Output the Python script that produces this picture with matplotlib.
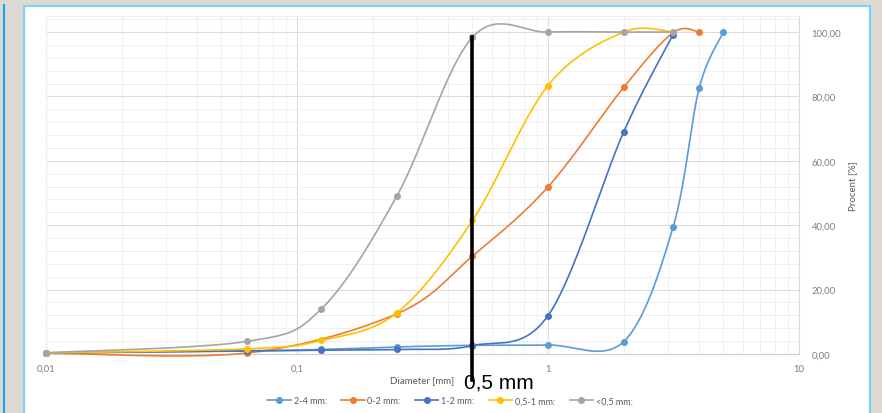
import matplotlib
matplotlib.use('Agg')
import matplotlib.pyplot as plt
from matplotlib.patches import Rectangle
from matplotlib.lines import Line2D
from matplotlib.ticker import FixedLocator, FuncFormatter, MultipleLocator
import numpy as np

plt.rcParams['font.family'] = ['Lato', 'DejaVu Sans']

# sieve sizes [mm] and passing percentages per fraction
sizes_24 = [0.01, 0.063, 0.125, 0.25, 0.5, 1, 2, 3.15, 4, 5]
pct_24 = [0.3, 1.0, 1.4, 2.2, 2.7, 2.8, 3.8, 39.4, 82.5, 100]

sizes_02 = [0.01, 0.063, 0.25, 0.5, 1, 2, 3.15, 4]
pct_02 = [0.3, 0.3, 12.5, 30.4, 51.9, 82.8, 99.8, 100]

sizes_12 = [0.01, 0.063, 0.125, 0.25, 0.5, 1, 2, 3.15]
pct_12 = [0.3, 0.9, 1.2, 1.4, 2.6, 11.9, 68.9, 99.2]

sizes_051 = [0.01, 0.063, 0.125, 0.25, 0.5, 1, 2, 3.15]
pct_051 = [0.3, 1.6, 4.2, 12.8, 41.5, 83.4, 100, 100]

sizes_05 = [0.01, 0.063, 0.125, 0.25, 0.5, 1, 2, 3.15]
pct_05 = [0.4, 3.9, 14.0, 49.1, 98.4, 100, 100, 100]

labels = ['2-4 mm:', '0-2 mm:', '1-2 mm:', '0,5-1 mm:', '<0,5 mm:']
colors = ['#5B9BD5', '#ED7D31', '#4472C4', '#FFC000', '#A5A5A5']

cut_size = 0.5
cut_top = 98.4
cut_bottom = -8

x_ticks = [0.01, 0.1, 1, 10]
y_ticks = [0, 20, 40, 60, 80, 100]


def smooth(xs, ys, n=40):
    # excel-like smoothed line: bezier through the points in log-x space
    pts = np.column_stack([np.log10(xs), np.asarray(ys, float)])
    P = np.vstack([pts[0], pts, pts[-1]])
    t = np.linspace(0, 1, n)[:, None]
    out = []
    for i in range(1, len(P) - 2):
        p0, p1, p2, p3 = P[i - 1], P[i], P[i + 1], P[i + 2]
        c1 = p1 + (p2 - p0) / 6
        c2 = p2 - (p3 - p1) / 6
        seg = (1 - t) ** 3 * p1 + 3 * (1 - t) ** 2 * t * c1 + 3 * (1 - t) * t ** 2 * c2 + t ** 3 * p2
        out.append(seg)
    out = np.vstack(out)
    return 10 ** out[:, 0], out[:, 1]


fig = plt.figure(figsize=(8.82, 4.14), dpi=100, facecolor='#DDD9D3')

# slide panel
panel = Rectangle((23.5 / 882, -0.05), (870 - 23.5) / 882, 1.05 - 6.5 / 414,
                  transform=fig.transFigure, facecolor='white', edgecolor='#7DD3F7',
                  lw=1.6, zorder=-10)
fig.add_artist(panel)
fig.add_artist(Line2D([4 / 882, 4 / 882], [0, 1 - 6 / 414], transform=fig.transFigure,
                      color='#1AA7EC', lw=1.5, zorder=-9))

ax = fig.add_axes([46 / 882, 1 - 355 / 414, (799 - 46) / 882, (355 - 17) / 414])
ax.set_facecolor('none')
ax.set_xscale('log')
ax.set_xlim(0.01, 10)
ax.set_ylim(0, 105)

series = [(sizes_24, pct_24), (sizes_02, pct_02), (sizes_12, pct_12),
          (sizes_051, pct_051), (sizes_05, pct_05)]
for (xs, ys), c in zip(series, colors):
    sx, sy = smooth(xs, ys)
    ax.plot(sx, sy, color=c, lw=1.2, clip_on=False, zorder=3)
    ax.plot(xs, ys, 'o', color=c, ms=4, clip_on=False, zorder=4)

ax.plot([cut_size, cut_size], [cut_bottom, cut_top], color='black', lw=2.6,
        clip_on=False, zorder=6)

ax.xaxis.set_major_locator(FixedLocator(x_ticks))
ax.xaxis.set_major_formatter(FuncFormatter(lambda v, p: ('%g' % v).replace('.', ',')))
ax.yaxis.set_major_locator(FixedLocator(y_ticks))
ax.yaxis.set_minor_locator(MultipleLocator(4))
ax.yaxis.set_major_formatter(FuncFormatter(lambda v, p: ('%.2f' % v).replace('.', ',')))
ax.yaxis.tick_right()
ax.yaxis.set_label_position('right')
ax.tick_params(which='both', length=0, labelsize=6.8, labelcolor='#7F7F7F')
ax.tick_params(axis='x', pad=7)
ax.tick_params(axis='y', pad=9)

ax.grid(which='major', color='#DCDCDC', lw=0.8)
ax.grid(which='minor', color='#F0F0F0', lw=0.7)
ax.set_axisbelow(True)
for s in ax.spines.values():
    s.set_color('#EDEDED')
    s.set_linewidth(0.8)
ax.spines['bottom'].set_color('#D0D0D0')
ax.spines['right'].set_color('#D9D9D9')

ax.set_xlabel('Diameter [mm]', fontsize=7, color='#595959', labelpad=2)
ax.set_ylabel('Procent [%]', fontsize=7, color='#595959', labelpad=5)

fig.text(464 / 882, 1 - 389 / 414, '0,5 mm', fontsize=15, family='Liberation Sans',
         color='black', va='baseline', ha='left')

handles = [Line2D([], [], color=c, lw=1.2, marker='o', ms=4) for c in colors]
fig.legend(handles, labels, loc='center', bbox_to_anchor=(450 / 882, 1 - 402 / 414),
           ncol=5, frameon=False, fontsize=6.5, labelcolor='#595959',
           handlelength=2.6, columnspacing=1.6, handletextpad=0.3)

fig.savefig('out.png', dpi=100, facecolor=fig.get_facecolor())
